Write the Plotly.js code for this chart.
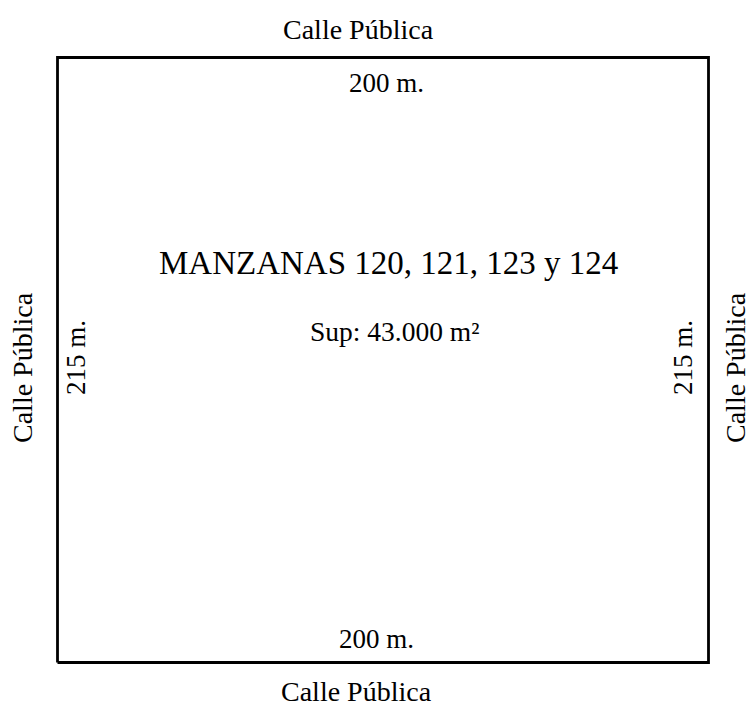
<!DOCTYPE html>
<html>
<head>
<meta charset="utf-8">
<script src="https://cdn.plot.ly/plotly-3.0.1.min.js"></script>
<style>
  html, body { margin: 0; padding: 0; background: #ffffff; }
  #chart { width: 750px; height: 713px; }
</style>
</head>
<body>
<div id="chart"></div>
<script>
// ---- data ----
const frente = 200;          // m (top / bottom sides)
const fondo = 215;           // m (left / right sides)
const titulo = "MANZANAS 120, 121, 123 y 124";
const superficie = "Sup: 43.000 m²";
const calle = "Calle Pública";
const ladoLabels = ["200 m.", "200 m.", "215 m.", "215 m."]; // top, bottom, left, right

// ---- layout helpers (pixel geometry) ----
const W = 750, H = 713;
const px = { left: 57.5, right: 708.5, top: 57.5, bottom: 662.5 };
const ux = (px.right - px.left) / frente;   // px per metre (x)
const uy = (px.bottom - px.top) / fondo;    // px per metre (y)
const xRange = [-px.left / ux, frente + (W - px.right) / ux];
const yRange = [-(H - px.bottom) / uy, fondo + px.top / uy];
const X = p => p / W;
const Y = p => 1 - p / H;

const font = "Liberation Serif";

const trace = {
  type: "scatter",
  mode: "lines",
  x: [0, frente, frente, 0, 0],
  y: [0, 0, fondo, fondo, 0],
  line: { color: "#000000", width: 2.8 },
  hoverinfo: "skip",
  showlegend: false
};

function ann(text, x, y, size, angle) {
  return {
    text: text, xref: "paper", yref: "paper", x: X(x), y: Y(y),
    xanchor: "center", yanchor: "middle", showarrow: false,
    textangle: angle || 0,
    font: { family: font, size: size, color: "#000000" }
  };
}

const annotations = [
  ann(calle, 358, 30, 28),
  ann(ladoLabels[0], 386, 83, 27),
  ann(titulo, 388.5, 263, 33),
  ann(superficie, 394, 331, 27.5),
  ann(ladoLabels[1], 376, 639, 27),
  ann(calle, 356, 691, 28),
  ann(ladoLabels[2], 76, 358, 27, -90),
  ann(ladoLabels[3], 683, 358, 27, -90),
  ann(calle, 22, 368, 28, -90),
  ann(calle, 735, 368, 28, -90)
];

const layout = {
  width: W, height: H,
  margin: { l: 0, r: 0, t: 0, b: 0, pad: 0 },
  paper_bgcolor: "#ffffff",
  plot_bgcolor: "#ffffff",
  font: { family: font },
  xaxis: { range: xRange, visible: false, fixedrange: true },
  yaxis: { range: yRange, visible: false, fixedrange: true },
  annotations: annotations,
  showlegend: false
};

Plotly.newPlot("chart", [trace], layout, { displayModeBar: false, staticPlot: true });
</script>
</body>
</html>
